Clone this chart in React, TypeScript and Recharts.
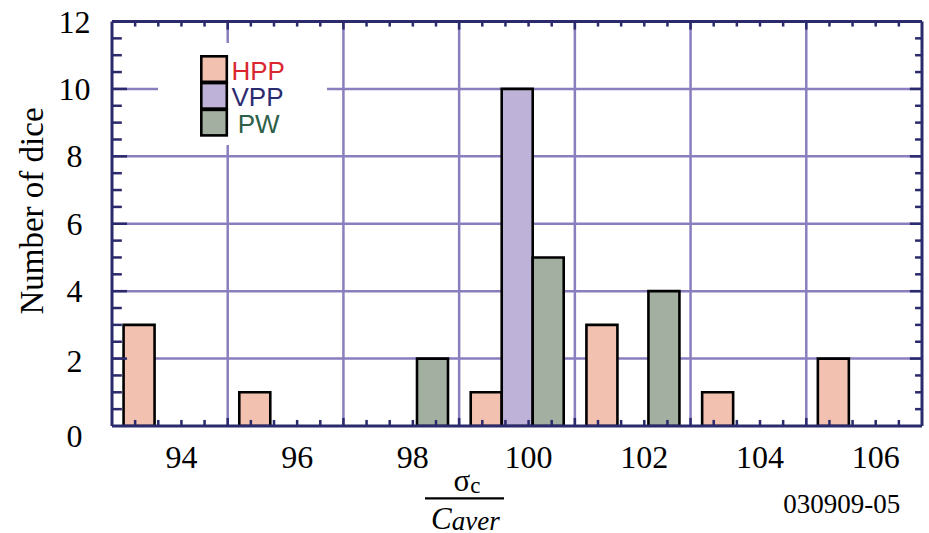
import React from 'react';
import { ComposedChart, Bar, Line, XAxis, YAxis, Legend, ReferenceLine, CartesianGrid } from 'recharts';

// ---- data ----
const binLabels = ['92.8-94.8', '94.8-96.8', '96.8-98.8', '98.8-100.8', '100.8-102.8', '102.8-104.8', '104.8-106.8'];
const binCenters = [93.8, 95.8, 97.8, 99.8, 101.8, 103.8, 105.8];
const hppCounts = [3, 1, 0, 1, 3, 1, 2];
const vppCounts = [0, 0, 0, 10, 0, 0, 0];
const pwCounts = [0, 0, 2, 5, 4, 0, 0];
const seriesNames = ['HPP', 'VPP', 'PW'];

const xDomain = [92.8, 106.8];
const xGridValues = [94.8, 96.8, 98.8, 100.8, 102.8, 104.8];
const xMinorTicks = Array.from({ length: 36 }, (_, i) => Math.round((92.8 + 0.4 * i) * 10) / 10);
const xTickLabels = [94, 96, 98, 100, 102, 104, 106];

const yDomain = [0, 12];
const yGridValues = [2, 4, 6, 8, 10];
const yMinorTicks = Array.from({ length: 25 }, (_, i) => i * 0.5);
const yTickLabels = [0, 2, 4, 6, 8, 10, 12];

const yTitle = 'Number of dice';
const figureCode = '030909-05';

// ---- styles ----
const FILL: Record<string, string> = { HPP: '#F2C1B0', VPP: '#BEB2D8', PW: '#A3AFA0' };
const TEXTC: Record<string, string> = { HPP: '#D9262F', VPP: '#2B2B70', PW: '#2E6049' };
const NAVY = '#2A2A6C';
const GRID = '#8A7EBF';
const SERIF = "'Liberation Serif', 'Times New Roman', serif";
const SANS = "'Liberation Sans', Arial, sans-serif";
const THIN = 0.01;
// tick lengths expressed in axis units (y: ~33.7 px/unit, x: ~57.9 px/unit)
const TICK_B_MINOR = 0.18;
const TICK_B_MAJOR = 0.24;
const TICK_T_MINOR = 0.15;
const TICK_T_MAJOR = 0.24;
const TICK_L_MINOR = 0.17;
const TICK_L_MAJOR = 0.26;
const TICK_R_MINOR = 0.12;
const TICK_R_MAJOR = 0.21;

const data = binLabels.map((bin, i) => ({
  bin,
  center: binCenters[i],
  HPP: hppCounts[i],
  VPP: vppCounts[i],
  PW: pwCounts[i],
}));

const applyScale = (axis: any, v: number) => {
  const s = axis?.scale;
  if (!s) return NaN;
  if (typeof s === 'function') return s(v);
  if (typeof s.map === 'function') return s.map(v);
  return NaN;
};

const XTick = (props: any) => {
  const { x, y, payload } = props;
  const v = Math.round(payload.value * 10) / 10;
  if (!xTickLabels.includes(v)) return null;
  return (
    <text x={x} y={y + 48} textAnchor="middle" fontFamily={SERIF} fontSize={32} fill="#000">
      {v}
    </text>
  );
};

const YTick = (props: any) => {
  const { x, y, payload } = props;
  const v = payload.value;
  if (!yTickLabels.includes(v)) return null;
  const dy = v === 0 ? 21 : v === 2 ? 13.5 : 11;
  return (
    <text x={x - 47.5} y={y + dy} textAnchor="middle" fontFamily={SERIF} fontSize={32} fill="#000">
      {v}
    </text>
  );
};

const YTitle = (props: any) => {
  const vb = props.viewBox ?? { x: 112, y: 21.5, width: 0, height: 404.5 };
  const tx = vb.x - 69;
  const ty = vb.y + 189.5;
  return (
    <text
      x={tx}
      y={ty}
      transform={`rotate(-90, ${tx}, ${ty})`}
      textAnchor="middle"
      fontFamily={SERIF}
      fontSize={33}
      fill="#000"
    >
      {yTitle}
    </text>
  );
};

const XTitle = (props: any) => {
  const vb = props.viewBox ?? { x: 112, y: 426, width: 810, height: 0 };
  const bx = vb.x;
  const by = vb.y;
  return (
    <g>
      <text x={bx + 355} y={by + 65} textAnchor="middle" fontFamily={SERIF} fontSize={31} fill="#000">
        <tspan>σ</tspan>
        <tspan fontSize={23} dy={2}>c</tspan>
      </text>
      <line x1={bx + 313} x2={bx + 392} y1={by + 72.3} y2={by + 72.3} stroke="#000" strokeWidth={2.2} />
      <text x={bx + 353.4} y={by + 103} textAnchor="middle" fontFamily={SERIF} fontStyle="italic" fontSize={31} fill="#000">
        <tspan>C</tspan>
        <tspan fontSize={27} dy={1}>aver</tspan>
      </text>
      <text x={bx + 729.7} y={by + 87} textAnchor="middle" fontFamily={SERIF} fontSize={27} fill="#000">
        {figureCode}
      </text>
    </g>
  );
};

const LegendBox = () => (
  <svg width={169} height={102} style={{ display: 'block' }}>
    <rect x={0} y={0} width={169} height={102} fill="#fff" />
    {seriesNames.map((name, i) => (
      <rect
        key={name + 'r'}
        x={43.3}
        y={13.3 + i * 26.8}
        width={25.5}
        height={25.5}
        fill={FILL[name]}
        stroke="#000"
        strokeWidth={2.6}
      />
    ))}
    {seriesNames.map((name, i) => (
      <text
        key={name + 't'}
        x={name === 'PW' ? 79.7 : 73.5}
        y={37 + i * 26.4}
        fontFamily={SANS}
        fontSize={26}
        fill={TEXTC[name]}
      >
        {name}
      </text>
    ))}
  </svg>
);

const axisStyle = { stroke: NAVY, strokeWidth: 3 };
const RL = { xAxisId: 'xb', yAxisId: 'yl', ifOverflow: 'visible' as const };

export default function App() {
  const [x0, x1] = xDomain;
  const [y0, y1] = yDomain;
  const isMajorX = (v: number) => xGridValues.includes(v);
  const isMajorY = (v: number) => v % 2 === 0;
  return (
    <div style={{ position: 'absolute', left: 0, top: 0, width: 929, height: 533, background: '#fff' }}>
      <ComposedChart
        width={929}
        height={533}
        data={data}
        margin={{ top: 21.5, right: 7, bottom: 107, left: 112 }}
        barCategoryGap="10%"
        barGap={0}
      >
        <CartesianGrid
          xAxisId="xb"
          yAxisId="yl"
          stroke={GRID}
          strokeWidth={2.5}
          verticalCoordinatesGenerator={({ xAxis }: any) => xGridValues.map((v) => applyScale(xAxis, v))}
          horizontalCoordinatesGenerator={({ yAxis }: any) => yGridValues.map((v) => applyScale(yAxis, v))}
        />
        <XAxis xAxisId="cat" dataKey="bin" type="category" hide />
        <XAxis xAxisId="xb" dataKey="center" type="number" domain={xDomain} allowDataOverflow ticks={xMinorTicks} interval={0}
          orientation="bottom" mirror height={THIN} tickSize={6} tickMargin={0}
          axisLine={axisStyle} tickLine={false} tick={<XTick />} label={{ content: XTitle }} />
        <YAxis yAxisId="yl" type="number" domain={yDomain} allowDataOverflow ticks={yMinorTicks} interval={0}
          mirror width={THIN} tickSize={10} tickMargin={0} axisLine={axisStyle} tickLine={false}
          tick={<YTick />} label={{ content: YTitle }} />
        <XAxis xAxisId="xt" dataKey="center" type="number" domain={xDomain} allowDataOverflow ticks={xMinorTicks} interval={0}
          orientation="top" mirror height={THIN} tickSize={5} tickMargin={0}
          axisLine={axisStyle} tickLine={false} tick={false} />
        <YAxis yAxisId="yr" type="number" orientation="right" domain={yDomain} allowDataOverflow ticks={yMinorTicks} interval={0}
          mirror width={THIN} tickSize={7} tickMargin={0} axisLine={axisStyle} tickLine={false} tick={false} />

        {seriesNames.map((name) => (
          <Bar
            key={name}
            dataKey={name}
            xAxisId="cat"
            yAxisId="yl"
            fill={FILL[name]}
            stroke="#000"
            strokeWidth={2.6}
            isAnimationActive={false}
          />
        ))}
        <Line dataKey="HPP" xAxisId="xb" yAxisId="yl" stroke="none" dot={false} activeDot={false}
          legendType="none" isAnimationActive={false} />
        <Line dataKey="HPP" xAxisId="xt" yAxisId="yr" stroke="none" dot={false} activeDot={false}
          legendType="none" isAnimationActive={false} />

        {/* bottom & top ticks */}
        {xMinorTicks.filter((v) => v > x0 && v < x1).map((v) => (
          <ReferenceLine key={'tb' + v} {...RL}
            segment={[{ x: v, y: y0 }, { x: v, y: y0 + (isMajorX(v) ? TICK_B_MAJOR : TICK_B_MINOR) }]}
            stroke={NAVY} strokeWidth={2.5} />
        ))}
        {xMinorTicks.filter((v) => v > x0 && v < x1).map((v) => (
          <ReferenceLine key={'tt' + v} {...RL}
            segment={[{ x: v, y: y1 }, { x: v, y: y1 - (isMajorX(v) ? TICK_T_MAJOR : TICK_T_MINOR) }]}
            stroke={NAVY} strokeWidth={2.5} />
        ))}
        {/* left & right ticks */}
        {yMinorTicks.filter((v) => v > y0 && v < y1).map((v) => (
          <ReferenceLine key={'tl' + v} {...RL}
            segment={[{ x: x0, y: v }, { x: x0 + (isMajorY(v) ? TICK_L_MAJOR : TICK_L_MINOR), y: v }]}
            stroke={NAVY} strokeWidth={2.5} />
        ))}
        {yMinorTicks.filter((v) => v > y0 && v < y1).map((v) => (
          <ReferenceLine key={'tr' + v} {...RL}
            segment={[{ x: x1, y: v }, { x: x1 - (isMajorY(v) ? TICK_R_MAJOR : TICK_R_MINOR), y: v }]}
            stroke={NAVY} strokeWidth={2.5} />
        ))}

        <Legend
          layout="horizontal"
          verticalAlign="middle"
          align="center"
          content={<LegendBox />}
          wrapperStyle={{ position: 'absolute', left: 158, top: 43, width: 169, height: 102, margin: 0, padding: 0 }}
        />
      </ComposedChart>
    </div>
  );
}
